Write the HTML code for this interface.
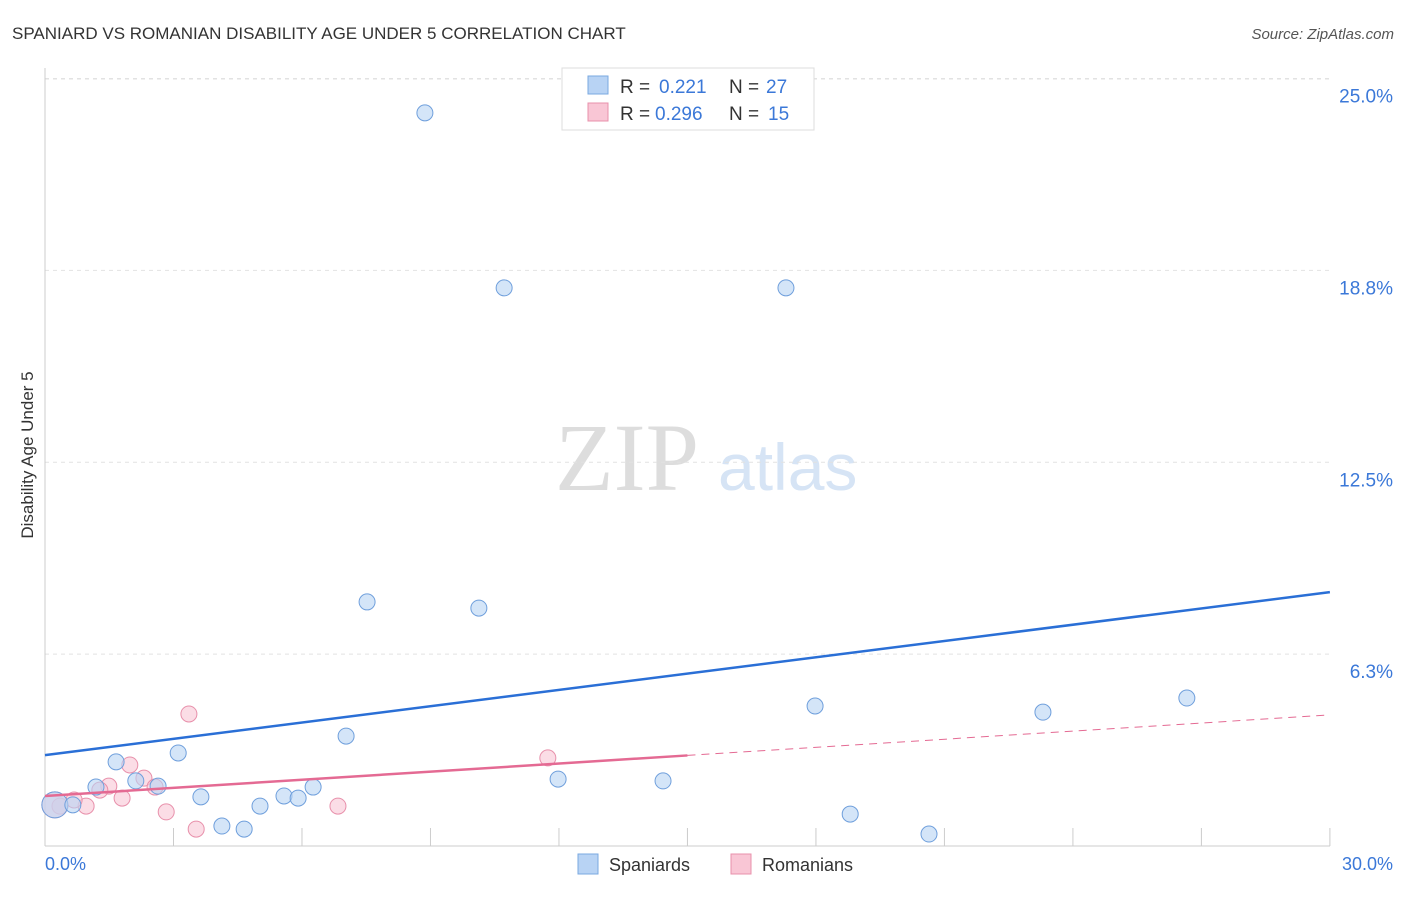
<!DOCTYPE html>
<html><head><meta charset="utf-8"><style>
body{margin:0;background:#fff;font-family:"Liberation Sans",sans-serif}
</style></head><body>
<svg width="1406" height="892" xmlns="http://www.w3.org/2000/svg" id="svg" font-family="Liberation Sans, sans-serif">
<text x="12" y="39" font-size="17" fill="#333">SPANIARD VS ROMANIAN DISABILITY AGE UNDER 5 CORRELATION CHART</text>
<text x="1394" y="39" font-size="15" fill="#555" text-anchor="end" font-style="italic">Source: ZipAtlas.com</text>
<text x="555" y="490" font-size="96" fill="#ddd" font-family="Liberation Serif, serif">ZIP</text>
<text x="718" y="490" font-size="66" fill="#d6e4f5">atlas</text>
<text transform="translate(33,455) rotate(-90)" font-size="17" fill="#333" text-anchor="middle">Disability Age Under 5</text>
<g id="grid"></g><g id="marks"></g>
<g>
<rect x="562" y="68" width="252" height="62" fill="#fff" stroke="#ddd"/>
<rect x="588" y="76" width="20" height="18" fill="#b8d3f4" stroke="#7aa8e0"/>
<rect x="588" y="103" width="20" height="18" fill="#f9c6d5" stroke="#e890ab"/>
<text x="620" y="93" font-size="19" fill="#333">R =</text>
<text x="659" y="93" font-size="19" fill="#3b78d8">0.221</text>
<text x="729" y="93" font-size="19" fill="#333">N =</text>
<text x="766" y="93" font-size="19" fill="#3b78d8">27</text>
<text x="620" y="120" font-size="19" fill="#333">R =</text>
<text x="655" y="120" font-size="19" fill="#3b78d8">0.296</text>
<text x="729" y="120" font-size="19" fill="#333">N =</text>
<text x="768" y="120" font-size="19" fill="#3b78d8">15</text>
</g>
<g>
<rect x="578" y="854" width="20" height="20" fill="#b8d3f4" stroke="#7aa8e0"/>
<text x="609" y="871" font-size="18" fill="#333">Spaniards</text>
<rect x="731" y="854" width="20" height="20" fill="#f9c6d5" stroke="#e890ab"/>
<text x="762" y="871" font-size="18" fill="#333">Romanians</text>
</g>
</svg>
<script>
const yTicks=[6.25,12.5,18.75,25];
const yTickLabels=["6.3%","12.5%","18.8%","25.0%"];
const xTicks=[0,3,6,9,12,15,18,21,24,27,30];
const blueX=[8.87,10.72,17.30,7.52,10.13,17.98,23.30,26.66,7.03,3.11,1.66,1.19,2.12,2.64,3.64,5.02,5.58,5.91,6.26,11.98,14.43,18.80,4.13,4.65,20.64,0.23,0.65];
const blueY=[23.88,18.18,18.18,7.95,7.75,4.56,4.36,4.82,3.58,3.03,2.74,1.92,2.12,1.95,1.60,1.30,1.63,1.56,1.92,2.18,2.12,1.04,0.65,0.55,0.39,1.34,1.34];
const pinkX=[3.36,1.98,2.31,2.57,1.49,1.80,0.96,0.68,0.35,2.83,3.53,6.84,11.74,0.23,1.28];
const pinkY=[4.30,2.64,2.21,1.92,1.95,1.56,1.30,1.50,1.30,1.11,0.55,1.30,2.87,1.34,1.82];
const blueLine=[2.96,8.27];
const pinkLine=[1.63,4.27];
const X=v=>45+v*42.83, Y=v=>846-v*30.7;
const NS="http://www.w3.org/2000/svg";
const grid=document.getElementById('grid'), marks=document.getElementById('marks');
function mk(tag,attrs,parent){const e=document.createElementNS(NS,tag);for(const k in attrs)e.setAttribute(k,attrs[k]);parent.appendChild(e);return e;}
yTicks.forEach((t,i)=>{
 const l=mk('line',{x1:45,x2:1330,y1:Y(t),y2:Y(t),stroke:'#e2e2e2','stroke-dasharray':'4,4'},grid);
 
 
 const tx=mk('text',{x:1393,y:Y(t)+24,'font-size':19,fill:'#3b78d8','text-anchor':'end'},grid);
 tx.textContent=yTickLabels[i];
 
 
});
const topGrid=mk('line',{x1:45,x2:1330,y1:79,y2:79,stroke:'#e2e2e2','stroke-dasharray':'4,4'},grid);


const ya=mk('line',{x1:45,x2:45,y1:68,y2:846,stroke:'#ccc'},grid);


const xa=mk('line',{x1:45,x2:1330,y1:846,y2:846,stroke:'#ccc'},grid);


xTicks.forEach(t=>{
 const l=mk('line',{x1:X(t),x2:X(t),y1:828,y2:846,stroke:'#ccc'},grid);
 
 
});
const xl0=mk('text',{x:45,y:870,'font-size':18,fill:'#3b78d8'},grid);xl0.textContent='0.0%';


const xl1=mk('text',{x:1393,y:870,'font-size':18,fill:'#3b78d8','text-anchor':'end'},grid);xl1.textContent='30.0%';


pinkX.forEach((v,i)=>{
 const c=mk('circle',{cx:X(v),cy:Y(pinkY[i]),r:i==13?13:8,fill:'#f9c6d5','fill-opacity':0.6,stroke:'#e890ab'},marks);
 
 
});
blueX.forEach((v,i)=>{
 const c=mk('circle',{cx:X(v),cy:Y(blueY[i]),r:i==25?13:8,fill:'#b8d3f4','fill-opacity':0.6,stroke:'#6f9fdc'},marks);
 
 
});
const bl=mk('line',{x1:X(0),y1:Y(blueLine[0]),x2:X(30),y2:Y(blueLine[1]),stroke:'#2a6fd6','stroke-width':2.5},marks);


const pm=pinkLine[0]+(pinkLine[1]-pinkLine[0])*0.5;
const pl=mk('line',{x1:X(0),y1:Y(pinkLine[0]),x2:X(15),y2:Y(pm),stroke:'#e46a93','stroke-width':2.5},marks);


const pd=mk('line',{x1:X(15),y1:Y(pm),x2:X(30),y2:Y(pinkLine[1]),stroke:'#e46a93','stroke-width':1,'stroke-dasharray':'8,6'},marks);


</script>
</body></html>
